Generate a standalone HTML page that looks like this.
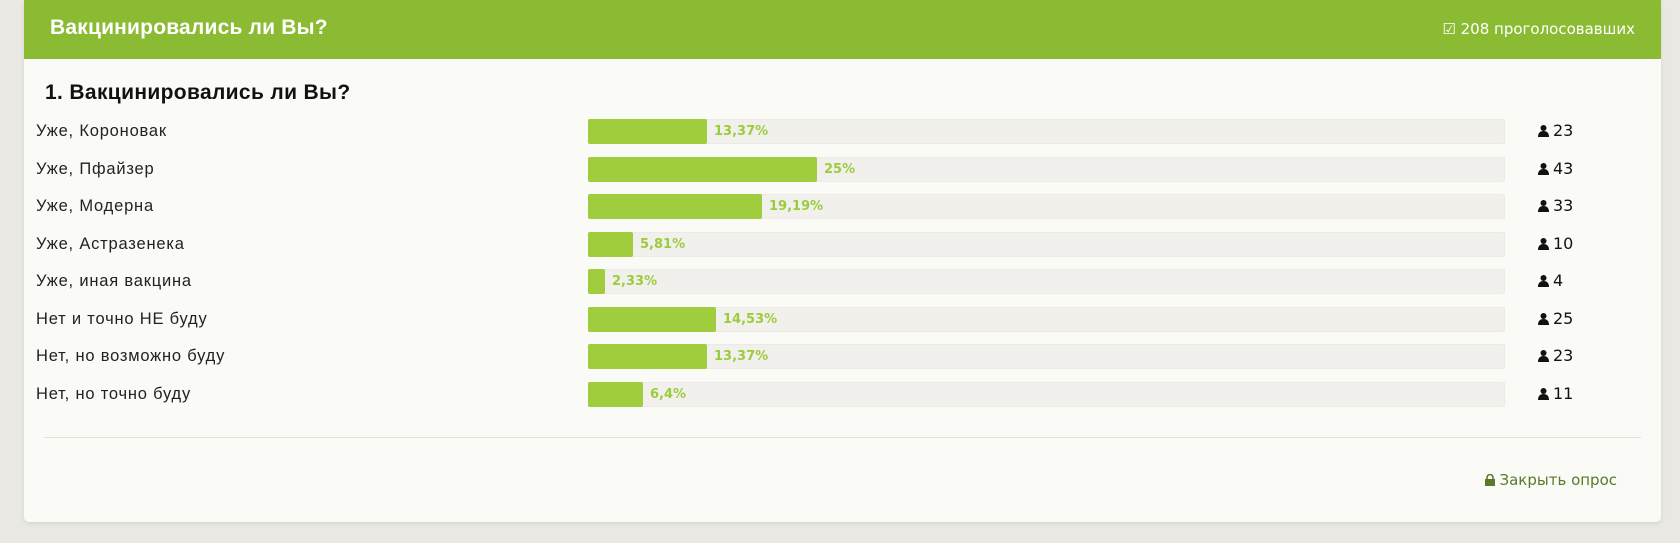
<!DOCTYPE html>
<html><head><meta charset="utf-8"><style>
body{margin:0;width:1680px;height:545px;background:#e9e8e2;position:relative;overflow:hidden;font-family:"Liberation Sans","DejaVu Sans",sans-serif}
.card{position:absolute;left:24px;top:0;width:1637px;height:522px;background:#fafaf6;border-radius:0 0 5px 5px;box-shadow:0 2px 4px rgba(0,0,0,.08)}
.hdr{position:absolute;left:0;top:0;width:100%;height:59px;background:#8bbb33}
.ht{position:absolute;left:26px;top:16px;color:#fff;font-weight:bold;font-size:21px;letter-spacing:0.2px}
.hv{position:absolute;right:26px;top:20px;color:#fff;font-family:"DejaVu Sans",sans-serif;font-size:15px}
.q{position:absolute;left:21px;top:81px;font-weight:bold;font-size:21px;letter-spacing:0.35px;color:#111}
.lab{position:absolute;font-size:16.5px;letter-spacing:0.8px;color:#222}
.tr{position:absolute;width:917px;height:25px;background:#f1f0ec;border-radius:2px;box-shadow:inset 0 0 0 1px #ebeae5}
.bar{position:absolute;left:0;top:0;height:25px;background:#a0cd3e;border-radius:2px}
.pct{position:absolute;top:5px;font-family:"DejaVu Sans",sans-serif;font-weight:bold;font-size:13px;color:#9ccc3c}
.cnt{position:absolute;font-family:"DejaVu Sans",sans-serif;font-size:16px;color:#111}
.ic{display:inline-block;width:11px;height:12px;vertical-align:-1px;margin-right:4px}
.div{position:absolute;left:20px;top:437px;width:1597px;height:1px;background:#e2e1dc}
.cl{position:absolute;right:44px;top:471px;font-family:"DejaVu Sans",sans-serif;font-size:15px;color:#5a7a2a}
</style></head><body>
<div class="card">
<div class="hdr"><div class="ht">Вакцинировались ли Вы?</div><div class="hv">☑ 208 проголосовавших</div></div>
<div class="q">1. Вакцинировались ли Вы?</div>
<div class="div"></div>
<div class="cl"><svg width="10" height="12" viewBox="0 0 10 12" style="vertical-align:-1px;margin-right:4px"><rect x="0" y="5" width="10" height="7" fill="#5a7a2a"/><path d="M2 5V3.5a3 3 0 0 1 6 0V5" stroke="#5a7a2a" stroke-width="1.6" fill="none"/></svg>Закрыть опрос</div>
</div>
<div id="rows"></div>
<script>
var d=[["Уже, Короновак",119,"13,37%",23],["Уже, Пфайзер",229,"25%",43],["Уже, Модерна",174,"19,19%",33],["Уже, Астразенека",45,"5,81%",10],["Уже, иная вакцина",17,"2,33%",4],["Нет и точно НЕ буду",128,"14,53%",25],["Нет, но возможно буду",119,"13,37%",23],["Нет, но точно буду",55,"6,4%",11]];
var h="";
d.forEach(function(r,i){var t=119+i*37.5;
h+='<div class="lab" style="left:36px;top:'+(t+3)+'px">'+r[0]+'</div>';
h+='<div class="tr" style="left:588px;top:'+t+'px"><div class="bar" style="width:'+r[1]+'px"></div><div class="pct" style="left:'+(r[1]+7)+'px">'+r[2]+'</div></div>';
h+='<div class="cnt" style="left:1538px;top:'+(t+2)+'px"><svg class="ic" viewBox="0 0 11 12"><circle cx="5.5" cy="3" r="3" fill="#111"/><path d="M0 12c0-4 2-6 5.5-6s5.5 2 5.5 6z" fill="#111"/></svg>'+r[3]+'</div>';});
document.getElementById("rows").innerHTML=h;
</script>
<div style="position:absolute;left:0;top:543px;width:1680px;height:2px;background:#fff"></div>
</body></html>
